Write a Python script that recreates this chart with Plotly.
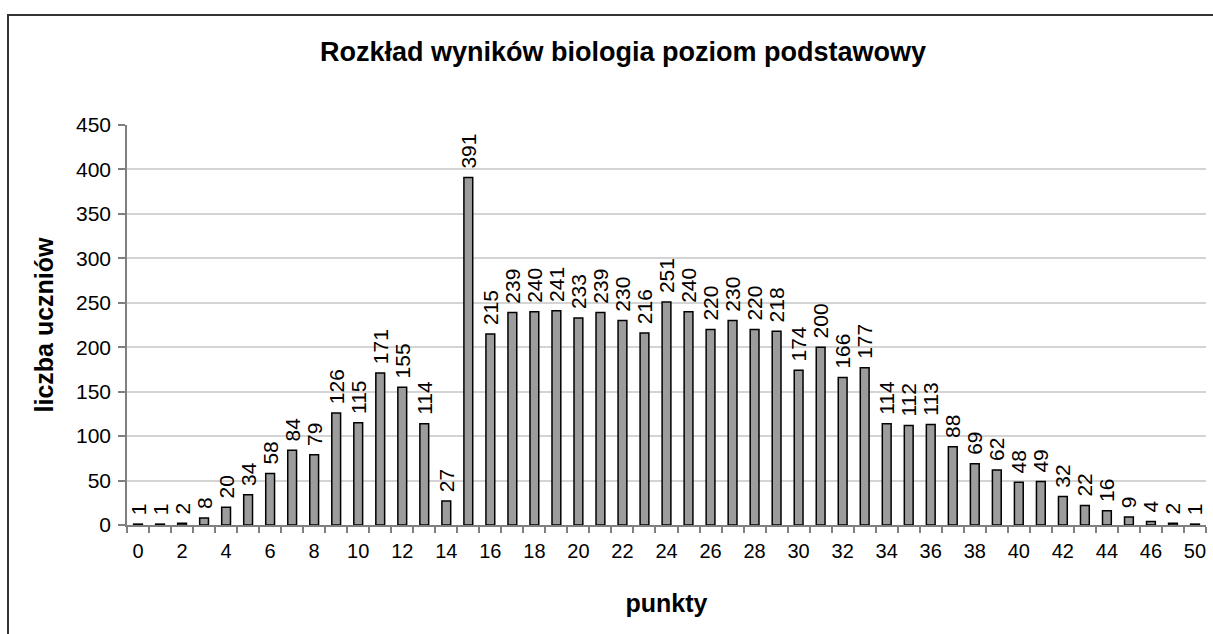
import plotly.graph_objects as go

categories = [str(i) for i in range(0, 47)] + ["48", "50"]
counts = [1, 1, 2, 8, 20, 34, 58, 84, 79, 126, 115, 171, 155, 114, 27, 391,
          215, 239, 240, 241, 233, 239, 230, 216, 251, 240, 220, 230, 220, 218,
          174, 200, 166, 177, 114, 112, 113, 88, 69, 62, 48, 49, 32, 22, 16, 9,
          4, 2, 1]
y_ticks = list(range(0, 451, 50))

idx = list(range(len(categories)))

FONT = "Liberation Sans, Arial, sans-serif"

fig = go.Figure()
fig.add_trace(go.Bar(
    x=idx, y=counts, width=0.4,
    marker=dict(color="#9c9c9c", line=dict(color="#000000", width=1.5)),
    text=["\u00a0" + str(v) for v in counts], textposition="outside", textangle=-90,
    constraintext="none",
    textfont=dict(family=FONT, size=21, color="#000000"),
    cliponaxis=False,
))

W, H = 1213, 634
L, R, T, B = 127, 7, 125, 109
pw = W - L - R
ph = H - T - B

fig.update_layout(
    width=W, height=H,
    margin=dict(l=L, r=R, t=T, b=B),
    plot_bgcolor="white", paper_bgcolor="white",
    showlegend=False,
    font=dict(family=FONT, color="#000000"),
    title=dict(text="<b>Rozkład wyników biologia poziom podstawowy</b>",
               x=623 / W, xref="container", xanchor="center",
               y=1 - 52 / H, yref="container", yanchor="middle",
               font=dict(family=FONT, size=27, color="#000000")),
)

fig.update_xaxes(
    range=[-0.5, len(categories) - 0.5],
    tickmode="array",
    tickvals=idx[::2], ticktext=categories[::2],
    ticks="", showgrid=False, zeroline=False,
    showline=True, linecolor="#808080", linewidth=1.5,
    ticklabelstandoff=7,
    tickfont=dict(family=FONT, size=20, color="#000000"),
    minor=dict(tickmode="array", tickvals=[i - 0.5 for i in idx] + [len(idx) - 0.5],
               ticks="outside", ticklen=6, tickcolor="#808080", tickwidth=1.5, showgrid=False),
    title=dict(text="<b>punkty</b>", standoff=34,
               font=dict(family=FONT, size=25, color="#000000")),
)
fig.update_yaxes(
    range=[0, 450], tickmode="array", tickvals=y_ticks,
    ticks="outside", ticklen=7, tickcolor="#808080", tickwidth=1.5,
    showgrid=True, gridcolor="#d4d4d4", gridwidth=1.5,
    zeroline=False, showline=True, linecolor="#808080", linewidth=1.5,
    ticklabelstandoff=3,
    tickfont=dict(family=FONT, size=21, color="#000000"),
    title=dict(text="<b>liczba uczniów</b>", standoff=15,
               font=dict(family=FONT, size=25, color="#000000")),
)

# outer chart-area frame
fig.add_shape(type="rect", xref="paper", yref="paper",
              x0=(8 - L) / pw, x1=(W + 20 - L) / pw,
              y0=(T + ph - (H + 20)) / ph, y1=(T + ph - 15) / ph,
              line=dict(color="#333333", width=2), fillcolor="rgba(0,0,0,0)",
              layer="above")

fig.write_html("out.html", config={"displayModeBar": False},
               post_script="document.body.style.margin='0px';")
